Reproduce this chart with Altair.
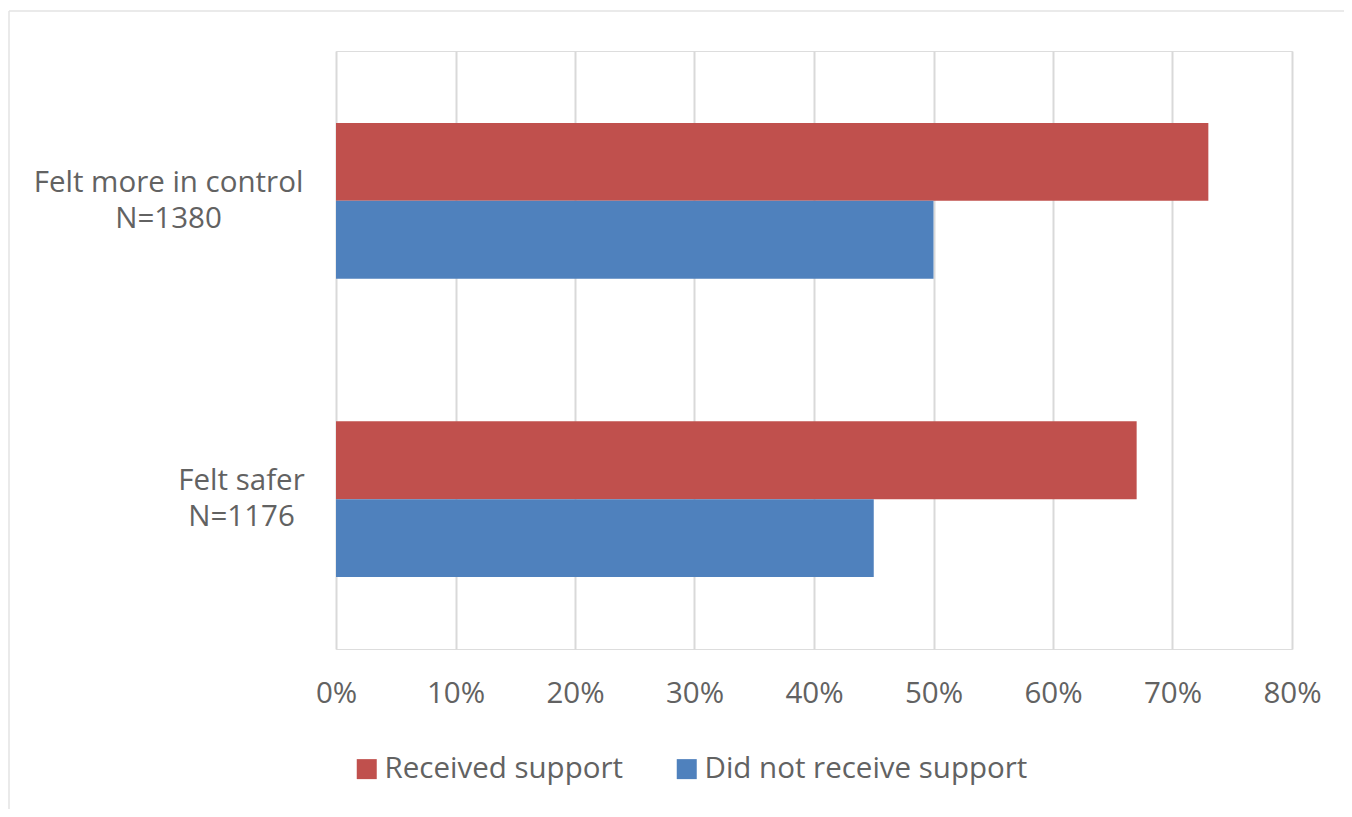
import altair as alt
import pandas as pd

categories = ["Felt more in control|N=1380", "Felt safer|N=1176"]
groups = ["Received support", "Did not receive support"]
received = [0.73, 0.67]
not_received = [0.50, 0.45]
ticks = [0, 0.1, 0.2, 0.3, 0.4, 0.5, 0.6, 0.7, 0.8]
colors = ["#C0504D", "#4F81BD"]

rows = []
for c, r, n in zip(categories, received, not_received):
    rows.append({"cat": c, "group": groups[0], "value": r})
    rows.append({"cat": c, "group": groups[1], "value": n})
df = pd.DataFrame(rows)

FONT = "Open Sans"
FS = 29.5
TXT = "#626262"

bars = alt.Chart(df).mark_bar().encode(
    x=alt.X("value:Q",
            scale=alt.Scale(domain=[0, 0.8], nice=False, zero=True),
            axis=alt.Axis(values=ticks, format=".0%", title=None, grid=True,
                          gridColor="#D9D9D9", gridWidth=2, domain=False, ticks=False,
                          tickSize=0, labelPadding=30, labelFontSize=FS, labelFont=FONT,
                          labelColor=TXT, labelFlush=False, labelOverlap=False)),
    y=alt.Y("cat:N", sort=categories,
            scale=alt.Scale(paddingInner=0.478, paddingOuter=0.241),
            axis=alt.Axis(title=None, domain=False, ticks=False, tickSize=0, grid=False,
                          labelExpr="split(datum.label, '|')",
                          labelAlign="center", labelBaseline="middle",
                          labelLineHeight=36, labelOffset=-18, labelLimit=0,
                          labelPadding={"condition": {"test": "datum.value == 'Felt safer|N=1176'", "value": 95}, "value": 168},
                          labelFontSize=FS, labelFont=FONT, labelColor=TXT)),
    yOffset=alt.YOffset("group:N", sort=groups,
                        scale=alt.Scale(domain=groups, paddingInner=0, paddingOuter=0)),
    color=alt.Color("group:N", scale=alt.Scale(domain=groups, range=colors),
                    legend=alt.Legend(title=None, orient="none", legendX=16, legendY=703,
                                      direction="horizontal", symbolType="square",
                                      symbolSize=400, symbolStrokeWidth=0, labelLimit=0,
                                      labelFontSize=FS, labelFont=FONT, labelColor=TXT,
                                      labelOffset=3, columnPadding=49, padding=0)),
)

border_v = alt.Chart(alt.Data(values=[{"k": 1}])).mark_rule(
    stroke="#E3E3E3", strokeWidth=1.5
).encode(x=alt.value(-327), y=alt.value(-40), y2=alt.value(900))

border_h = alt.Chart(alt.Data(values=[{"k": 1}])).mark_rule(
    stroke="#E3E3E3", strokeWidth=1.5
).encode(x=alt.value(-327), x2=alt.value(1200), y=alt.value(-40))

chart = alt.layer(border_v, border_h, bars).properties(
    width=956, height=598,
    autosize=alt.AutoSizeParams(type="none"),
    padding={"left": 328, "top": 43, "right": 52, "bottom": 160},
).configure_view(stroke=None).configure(background="white")

chart.save("out.html", embed_options={"renderer": "svg", "actions": False})
